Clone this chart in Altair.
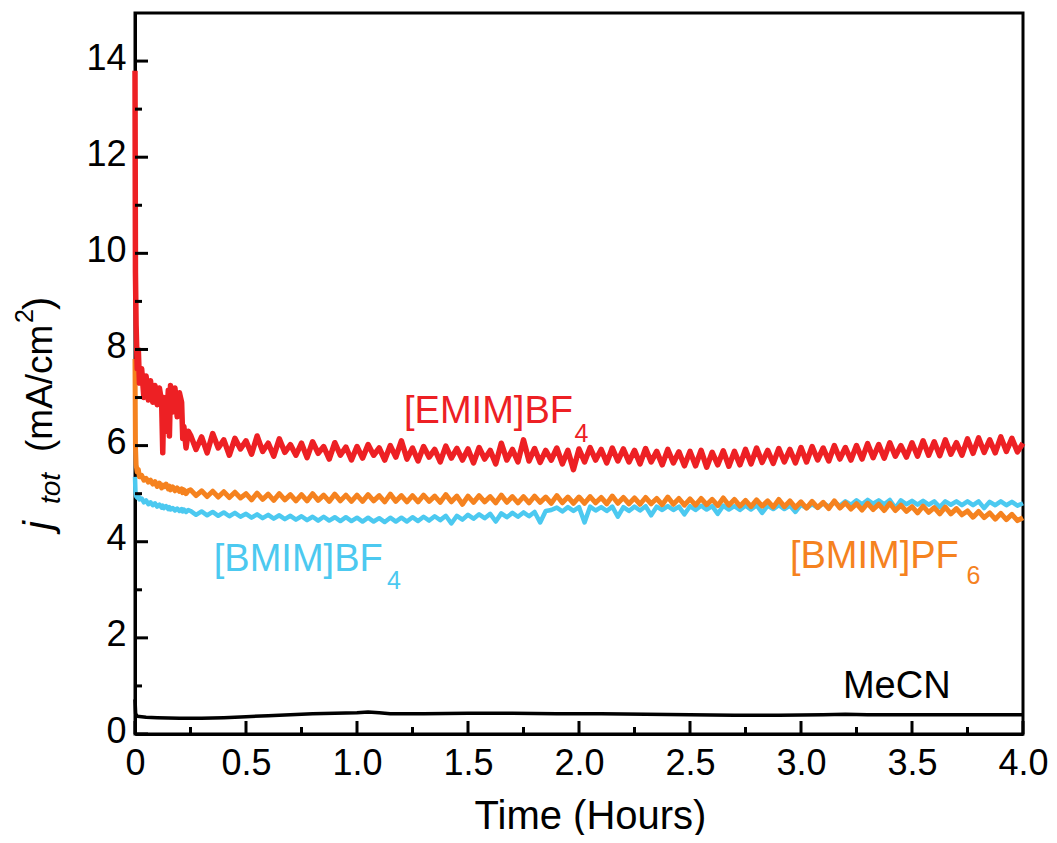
import altair as alt
import pandas as pd

FONT = "Liberation Sans"

# ---------------- data ----------------
hours = [
    0, 0.002, 0.005, 0.01, 0.015, 0.02, 0.03, 0.04, 0.05, 0.06,
    0.07, 0.08, 0.09, 0.1, 0.11, 0.12, 0.125, 0.13, 0.14, 0.15,
    0.155, 0.16, 0.17, 0.18, 0.19, 0.2, 0.21, 0.215, 0.22, 0.23, 0.24,
    0.25, 0.275, 0.3, 0.325, 0.35, 0.375, 0.4, 0.425, 0.45, 0.475,
    0.5, 0.525, 0.55, 0.575, 0.6, 0.625, 0.65, 0.675, 0.7, 0.725,
    0.75, 0.775, 0.8, 0.825, 0.85, 0.875, 0.9, 0.925, 0.95, 0.975,
    1.0, 1.025, 1.05, 1.075, 1.1, 1.125, 1.15, 1.175, 1.2, 1.225,
    1.25, 1.275, 1.3, 1.325, 1.35, 1.375, 1.4, 1.425, 1.45, 1.475,
    1.5, 1.525, 1.55, 1.575, 1.6, 1.625, 1.65, 1.675, 1.7, 1.725,
    1.75, 1.775, 1.8, 1.825, 1.85, 1.875, 1.9, 1.925, 1.95, 1.975,
    2.0, 2.025, 2.05, 2.075, 2.1, 2.125, 2.15, 2.175, 2.2, 2.225,
    2.25, 2.275, 2.3, 2.325, 2.35, 2.375, 2.4, 2.425, 2.45, 2.475,
    2.5, 2.525, 2.55, 2.575, 2.6, 2.625, 2.65, 2.675, 2.7, 2.725,
    2.75, 2.775, 2.8, 2.825, 2.85, 2.875, 2.9, 2.925, 2.95, 2.975,
    3.0, 3.025, 3.05, 3.075, 3.1, 3.125, 3.15, 3.175, 3.2, 3.225,
    3.25, 3.275, 3.3, 3.325, 3.35, 3.375, 3.4, 3.425, 3.45, 3.475,
    3.5, 3.525, 3.55, 3.575, 3.6, 3.625, 3.65, 3.675, 3.7, 3.725,
    3.75, 3.775, 3.8, 3.825, 3.85, 3.875, 3.9, 3.925, 3.95, 3.975,
    4.0,
]

emim_bf4 = [
    13.8, 9.6, 8.5, 7.6, 8.0, 7.3, 7.6, 7.0, 7.45, 6.95,
    7.35, 6.9, 7.25, 6.85, 7.2, 6.9, 5.85, 7.0, 6.3, 7.15,
    6.2, 7.25, 6.7, 7.2, 6.6, 7.1, 6.9, 6.15, 6.4, 5.95, 6.3,
    6.22, 5.92, 6.18, 5.85, 6.25, 5.95, 6.12, 5.80, 6.15, 5.93,
    6.10, 5.82, 6.20, 5.88, 6.05, 5.78, 6.14, 5.86, 6.02, 5.80,
    6.05, 5.75, 6.08, 5.84, 5.98, 5.72, 6.06, 5.80, 5.97, 5.70,
    5.98, 5.74, 6.02, 5.80, 5.95, 5.70, 6.00, 5.76, 6.10, 5.72,
    5.95, 5.68, 5.98, 5.76, 5.92, 5.66, 5.99, 5.74, 5.94, 5.70,
    5.93, 5.64, 5.96, 5.72, 5.90, 5.62, 6.05, 5.70, 5.92, 5.66,
    6.12, 5.68, 5.94, 5.65, 5.90, 5.70, 5.95, 5.62, 5.90, 5.50,
    5.93, 5.66, 5.96, 5.70, 5.92, 5.64, 5.95, 5.68, 5.93, 5.66,
    5.90, 5.62, 5.94, 5.66, 5.88, 5.60, 5.92, 5.64, 5.87, 5.58,
    5.88, 5.58, 5.90, 5.55, 5.86, 5.60, 5.89, 5.57, 5.88, 5.60,
    5.92, 5.62, 5.95, 5.65, 5.90, 5.63, 5.94, 5.66, 5.92, 5.64,
    5.96, 5.66, 5.98, 5.70, 5.95, 5.68, 6.00, 5.72, 5.96, 5.70,
    6.00, 5.72, 6.04, 5.75, 6.02, 5.74, 6.06, 5.78, 6.00, 5.76,
    6.06, 5.78, 6.10, 5.80, 6.08, 5.79, 6.12, 5.82, 6.06, 5.80,
    6.14, 5.84, 6.16, 5.86, 6.12, 5.85, 6.18, 5.88, 6.15, 5.87,
    6.05,
]

bmim_pf6 = [
    7.8, 6.0, 5.6, 5.45, 5.5, 5.35, 5.38, 5.28, 5.32, 5.24,
    5.28, 5.2, 5.25, 5.15, 5.22, 5.12, 5.18, 5.14, 5.2, 5.1,
    5.16, 5.08, 5.14, 5.06, 5.12, 5.05, 5.1, 5.02, 5.08, 5.0, 5.06,
    5.08, 4.96, 5.06, 4.94, 5.05, 4.93, 5.04, 4.92, 5.03, 4.91,
    5.00, 4.87, 5.01, 4.88, 4.99, 4.86, 5.00, 4.87, 4.98, 4.85,
    4.98, 4.85, 5.00, 4.86, 4.97, 4.84, 4.99, 4.85, 4.97, 4.84,
    4.97, 4.84, 4.98, 4.85, 4.96, 4.83, 4.99, 4.84, 4.96, 4.83,
    4.96, 4.83, 4.97, 4.84, 4.95, 4.82, 4.98, 4.83, 4.95, 4.78,
    4.95, 4.82, 4.96, 4.83, 4.94, 4.81, 4.97, 4.82, 4.94, 4.81,
    4.94, 4.81, 4.95, 4.82, 4.93, 4.80, 4.96, 4.81, 4.93, 4.80,
    4.93, 4.80, 4.94, 4.81, 4.92, 4.79, 4.95, 4.80, 4.92, 4.79,
    4.91, 4.78, 4.92, 4.79, 4.90, 4.77, 4.93, 4.78, 4.90, 4.76,
    4.89, 4.76, 4.90, 4.77, 4.88, 4.75, 4.91, 4.76, 4.88, 4.74,
    4.86, 4.73, 4.87, 4.74, 4.85, 4.72, 4.88, 4.73, 4.85, 4.71,
    4.83, 4.70, 4.84, 4.71, 4.82, 4.69, 4.85, 4.70, 4.81, 4.68,
    4.79, 4.66, 4.80, 4.67, 4.78, 4.65, 4.80, 4.65, 4.76, 4.63,
    4.73, 4.60, 4.74, 4.61, 4.71, 4.58, 4.72, 4.58, 4.69, 4.56,
    4.64, 4.51, 4.63, 4.50, 4.60, 4.47, 4.59, 4.46, 4.57, 4.44,
    4.50,
]

bmim_bf4 = [
    5.35, 5.05, 4.95, 4.92, 4.96, 4.88, 4.9, 4.82, 4.86, 4.78,
    4.82, 4.76, 4.8, 4.73, 4.77, 4.71, 4.75, 4.7, 4.74, 4.68,
    4.72, 4.67, 4.7, 4.65, 4.69, 4.64, 4.68, 4.63, 4.67, 4.62, 4.66,
    4.64, 4.56, 4.63, 4.55, 4.62, 4.54, 4.61, 4.53, 4.60, 4.52,
    4.58, 4.50, 4.57, 4.49, 4.56, 4.48, 4.55, 4.47, 4.54, 4.46,
    4.53, 4.45, 4.52, 4.44, 4.52, 4.44, 4.51, 4.43, 4.51, 4.43,
    4.50, 4.42, 4.50, 4.42, 4.49, 4.41, 4.50, 4.42, 4.50, 4.42,
    4.51, 4.43, 4.52, 4.44, 4.53, 4.45, 4.54, 4.38, 4.54, 4.46,
    4.56, 4.48, 4.57, 4.49, 4.58, 4.42, 4.59, 4.51, 4.60, 4.52,
    4.61, 4.53, 4.62, 4.40, 4.64, 4.66, 4.71, 4.63, 4.72, 4.64,
    4.72, 4.40, 4.73, 4.65, 4.72, 4.64, 4.73, 4.52, 4.72, 4.64,
    4.73, 4.65, 4.74, 4.55, 4.73, 4.66, 4.74, 4.66, 4.73, 4.57,
    4.74, 4.66, 4.75, 4.67, 4.74, 4.58, 4.75, 4.67, 4.74, 4.66,
    4.75, 4.67, 4.76, 4.60, 4.75, 4.68, 4.76, 4.68, 4.75, 4.62,
    4.77, 4.70, 4.78, 4.71, 4.80, 4.73, 4.82, 4.75, 4.84, 4.77,
    4.86, 4.78, 4.87, 4.79, 4.86, 4.78, 4.87, 4.70, 4.86, 4.78,
    4.85, 4.77, 4.85, 4.77, 4.84, 4.72, 4.84, 4.77, 4.84, 4.76,
    4.84, 4.76, 4.84, 4.70, 4.83, 4.76, 4.84, 4.76, 4.83, 4.75,
    4.80,
]

mecn_hours = [0, 0.003, 0.01, 0.05, 0.1, 0.2, 0.3, 0.4, 0.5, 0.6, 0.7,
              0.8, 0.9, 1.0, 1.05, 1.1, 1.15, 1.3, 1.5, 1.7, 1.9, 2.1,
              2.3, 2.5, 2.7, 2.9, 3.1, 3.2, 3.3, 3.5, 3.7, 3.9, 4.0]
mecn = [0.72, 0.42, 0.37, 0.35, 0.34, 0.33, 0.33, 0.34, 0.36, 0.38, 0.40,
        0.42, 0.43, 0.44, 0.46, 0.44, 0.42, 0.42, 0.43, 0.43, 0.42, 0.42,
        0.41, 0.40, 0.39, 0.39, 0.40, 0.41, 0.40, 0.40, 0.40, 0.40, 0.40]

x_major = [0, 0.5, 1.0, 1.5, 2.0, 2.5, 3.0, 3.5, 4.0]
x_minor = [0.25, 0.75, 1.25, 1.75, 2.25, 2.75, 3.25, 3.75]
y_major = [0, 2, 4, 6, 8, 10, 12, 14]
y_minor = [1, 3, 5, 7, 9, 11, 13]

label_text = ["[EMIM]BF", "[BMIM]BF", "[BMIM]PF", "MeCN"]
label_x = [1.212, 0.355, 2.95, 3.189]
label_y = [6.47, 3.40, 3.45, 0.75]
label_color = ["#ED2024", "#4CC9F0", "#F5821F", "#000000"]
sub_text = ["4", "4", "6"]
sub_x = [1.98, 1.135, 3.745]
sub_y = [6.08, 3.02, 3.12]
sub_color = ["#ED2024", "#4CC9F0", "#F5821F"]

W, H = 888, 721

# ---------------- chart ----------------
xscale = alt.Scale(domain=[0, 4], nice=False, zero=False)
yscale = alt.Scale(domain=[0, 15], nice=False)
xaxis = alt.Axis(values=x_major, ticks=False, tickSize=0, grid=False,
                 labelExpr="datum.value == 0 ? '0' : format(datum.value, '.1f')",
                 labelFont=FONT, labelFontSize=36, labelPadding=12, labelColor="black",
                 labelFlush=False, labelOverlap=False,
                 domainColor="black", domainWidth=3,
                 titleFont=FONT, titleFontSize=40, titleFontWeight="normal",
                 titleColor="black", titlePadding=15, titleX=455)
yaxis = alt.Axis(values=y_major, ticks=False, tickSize=0, grid=False,
                 labelFont=FONT, labelFontSize=36, labelPadding=9, labelColor="black",
                 labelOverlap=False, labelOffset=-3, labelFlush=False,
                 domainColor="black", domainWidth=3, title=None)


def series_line(xs, ys, color, width):
    df = pd.DataFrame({"hours": xs, "value": ys})
    return alt.Chart(df).mark_line(color=color, strokeWidth=width, strokeJoin="round").encode(
        x=alt.X("hours:Q", scale=xscale, axis=xaxis, title="Time (Hours)"),
        y=alt.Y("value:Q", scale=yscale, axis=yaxis),
    )


blue = series_line(hours, bmim_bf4, "#4CC9F0", 4.5)
orange = series_line(hours, bmim_pf6, "#F5821F", 5)
red = series_line(hours, emim_bf4, "#ED2024", 5.5)
black = series_line(mecn_hours, mecn, "#000000", 3.5)

xmaj = alt.Chart(pd.DataFrame({"hours": x_major})).mark_rule(color="black", strokeWidth=3).encode(
    x=alt.X("hours:Q", scale=xscale, title="Time (Hours)"), y=alt.value(H), y2=alt.value(H - 13))
xmin = alt.Chart(pd.DataFrame({"hours": x_minor})).mark_rule(color="black", strokeWidth=3).encode(
    x=alt.X("hours:Q", scale=xscale, title="Time (Hours)"), y=alt.value(H), y2=alt.value(H - 7))
ymaj = alt.Chart(pd.DataFrame({"value": y_major})).mark_rule(color="black", strokeWidth=3).encode(
    y=alt.Y("value:Q", scale=yscale), x=alt.value(0), x2=alt.value(13))
ymin = alt.Chart(pd.DataFrame({"value": y_minor})).mark_rule(color="black", strokeWidth=3).encode(
    y=alt.Y("value:Q", scale=yscale), x=alt.value(0), x2=alt.value(7))

labels_df = pd.DataFrame({"t": label_text, "hours": label_x, "value": label_y, "c": label_color})
labels = alt.Chart(labels_df).mark_text(font=FONT, fontSize=38, align="left", baseline="alphabetic").encode(
    x=alt.X("hours:Q", scale=xscale, title="Time (Hours)"),
    y=alt.Y("value:Q", scale=yscale),
    text="t:N",
    color=alt.Color("c:N", scale=None),
)
subs_df = pd.DataFrame({"t": sub_text, "hours": sub_x, "value": sub_y, "c": sub_color})
subs = alt.Chart(subs_df).mark_text(font=FONT, fontSize=25, align="left", baseline="alphabetic").encode(
    x=alt.X("hours:Q", scale=xscale, title="Time (Hours)"),
    y=alt.Y("value:Q", scale=yscale),
    text="t:N",
    color=alt.Color("c:N", scale=None),
)

# y-axis title pieces: j_tot (mA/cm^2)
ytitle_text = ["j", "tot", "(mA/cm", "2", ")"]
ytitle_px_x = [-83, -75, -83, -102, -83]
ytitle_px_y = [517, 491, 439, 310, 297]
ytitle_size = [40, 28, 37, 25, 40]
ytitle_style = ["italic", "italic", "normal", "normal", "normal"]

ytitle_layers = []
for t, px, py, fs, st in zip(ytitle_text, ytitle_px_x, ytitle_px_y, ytitle_size, ytitle_style):
    ytitle_layers.append(
        alt.Chart(pd.DataFrame({"t": [t]})).mark_text(
            font=FONT, fontSize=fs, fontStyle=st, angle=270, align="left",
            baseline="alphabetic", color="black"
        ).encode(text="t:N", x=alt.value(px), y=alt.value(py))
    )

chart = alt.layer(
    blue, orange, red, black, xmaj, xmin, ymaj, ymin, labels, subs, *ytitle_layers
).properties(
    width=W, height=H,
    autosize=alt.AutoSizeParams(type="none"),
    padding={"left": 127, "top": 5, "right": 26, "bottom": 101},
    background="white",
).configure_view(
    stroke="black", strokeWidth=3
)

chart.save("out.html", embed_options={"renderer": "svg", "actions": False})
